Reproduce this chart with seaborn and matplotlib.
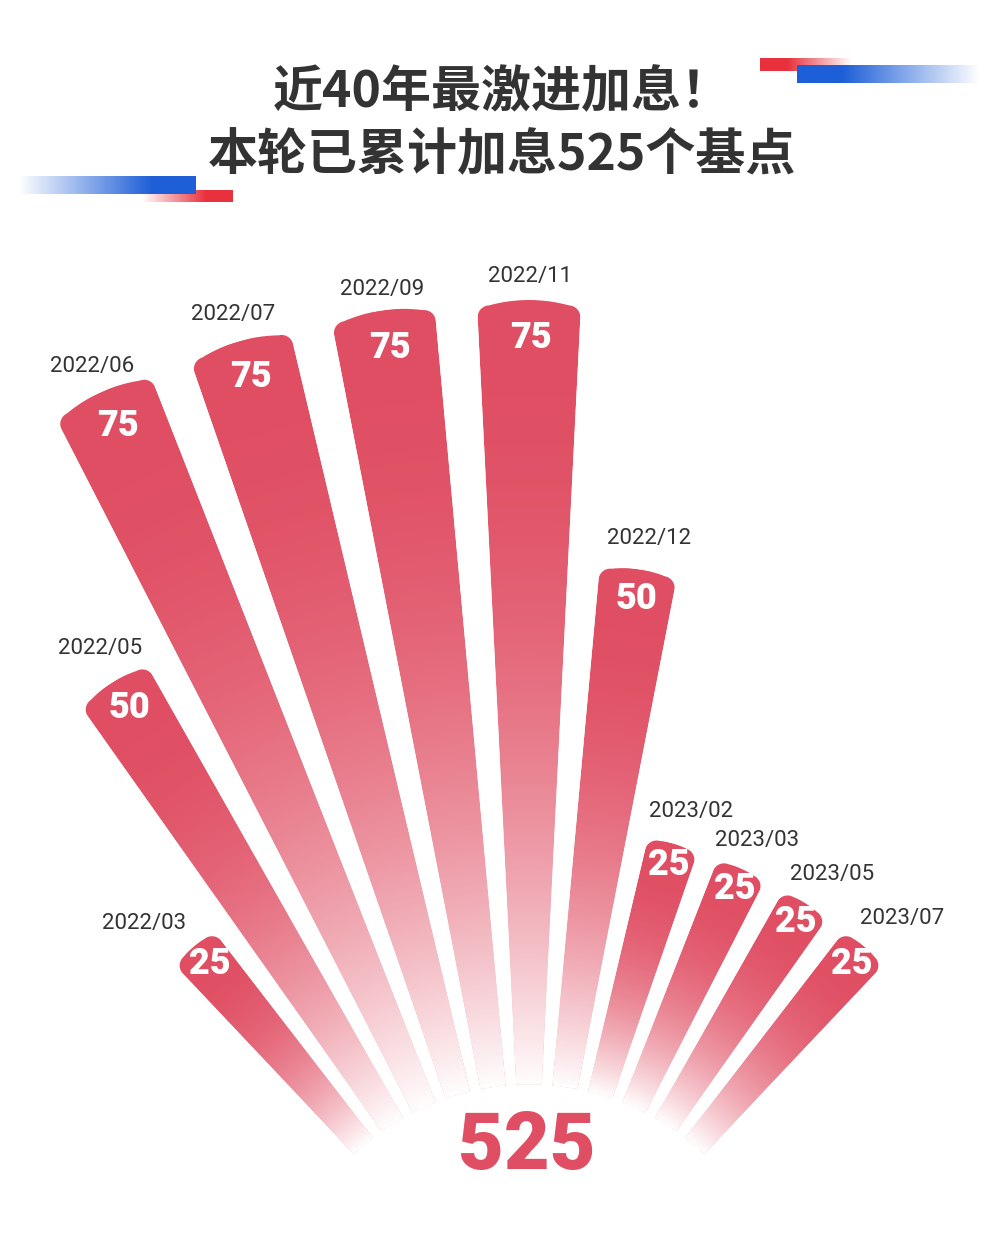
import numpy as np
import matplotlib
matplotlib.use('Agg')
import matplotlib.pyplot as plt
import seaborn as sns
from matplotlib.path import Path
from matplotlib.patches import PathPatch

# ---------------- data ----------------
months = ['2022/03', '2022/05', '2022/06', '2022/07', '2022/09', '2022/11',
          '2022/12', '2023/02', '2023/03', '2023/05', '2023/07']
hikes_bp = [25, 50, 75, 75, 75, 75, 50, 25, 25, 25, 25]
title_lines = ['近40年最激进加息！', '本轮已累计加息525个基点']

# ---------------- style / layout ----------------
W, H, DPI = 991, 1249, 100
RED = '#E04E63'
DARK = '#333333'
CX, CY = 529, 1340          # polar centre (px, from top)
R0_PX = 255.5               # radius of value 0 (px)
PX_PER_BP = 10.46
RMAX = 85
STEP_DEG = 8.1
BAR_FRAC = 0.71
CORNER_PX = 12
SAG_FRAC = 0.15
GAMMA = 2.3
# date-label nudges relative to bar tip (px, y up)
DATE_DX = [-49, -12, -9, -6, 0, 1, 10, 18, 15, 26, 37]
DATE_DY = [23, 34, 26, 27, 21, 24, 31, 32, 28, 29, 28]

sns.set_theme(style='white')
plt.rcParams['font.family'] = ['Noto Sans CJK SC', 'DejaVu Sans']
NUM_FONT = ['Roboto', 'DejaVu Sans']

fig = plt.figure(figsize=(W / DPI, H / DPI), dpi=DPI)
fig.patch.set_facecolor('white')

R_ax = R0_PX + PX_PER_BP * RMAX
rorigin = -R0_PX / PX_PER_BP
cy_b = H - CY
ax = fig.add_axes([(CX - R_ax) / W, (cy_b - R_ax) / H, 2 * R_ax / W, 2 * R_ax / H],
                  projection='polar', zorder=1)
ax.set_theta_zero_location('N')
ax.set_theta_direction(-1)

n = len(months)
theta = np.deg2rad((np.arange(n) - (n - 1) / 2) * STEP_DEG)
values = np.array(hikes_bp, dtype=float)

sns.barplot(x=theta, y=values, native_scale=True, width=BAR_FRAC, color=RED,
            saturation=1, errorbar=None, linewidth=0, edgecolor='none', ax=ax)
ax.set_ylim(0, RMAX)
ax.set_rorigin(rorigin)
ax.axis('off')
ax.patch.set_alpha(0)

centre = ax.transAxes.transform((0.5, 0.5))


def rho_of(r):
    p = ax.transData.transform(np.array([[0.0, r]]))[0]
    return float(np.hypot(*(p - centre)))


rho0 = rho_of(0.0)
drho = rho_of(1.0) - rho0


def dome_path(left, width, top):
    tc = left + width / 2
    hw = width / 2
    rtop = rho0 + drho * top
    hw_px = hw * rtop
    sag = SAG_FRAC * hw_px
    rc = CORNER_PX
    c = min(rc / hw_px, 0.9)
    rd = rtop - sag * (1 - c) ** 2
    phi = np.linspace(0, np.pi / 2, 25)
    u_rc = (1 - c) + c * np.sin(phi)
    r_rc = rd - rc * (1 - np.cos(phi))
    u_mid = np.linspace(-(1 - c), (1 - c), 60)
    r_mid = rtop - sag * u_mid ** 2
    u = np.concatenate([-u_rc[::-1], u_mid, u_rc])
    rr = np.concatenate([r_rc[::-1], r_mid, r_rc])
    th = tc + u * hw
    rdat = (rr - rho0) / drho
    verts = [(tc - hw, 0.0)] + list(zip(th, rdat)) + [(tc + hw, 0.0), (tc - hw, 0.0)]
    return Path(verts, closed=True)


bars = list(ax.patches)
domes = []
for b in bars:
    p = dome_path(b.get_x(), b.get_width(), b.get_height())
    domes.append(p)
    b.set_clip_path(PathPatch(p, transform=ax.transData))

# value labels inside bar tips
for t, v in zip(theta, values):
    d = 15 + 0.3 * v
    ax.annotate(f'{int(v)}', xy=(t, v), xytext=(-d * np.sin(t) + 2, -d * np.cos(t)),
                textcoords='offset pixels', ha='center', va='center',
                color='white', fontsize=26, fontweight='black', family=NUM_FONT,
                annotation_clip=False)

# date labels above bar tips
for i, (t, v, m) in enumerate(zip(theta, values, months)):
    ax.annotate(m, xy=(t, v), xytext=(DATE_DX[i], DATE_DY[i]),
                textcoords='offset pixels', ha='center', va='center',
                color=DARK, fontsize=16, family=NUM_FONT, annotation_clip=False)

# ---------------- overlay: fade-to-white gradient + decorations ----------------
bg = fig.add_axes([0, 0, 1, 1], zorder=2)
bg.set_xlim(0, W)
bg.set_ylim(0, H)
bg.axis('off')
bg.patch.set_alpha(0)

xs = np.arange(W) + 0.5
ys = H - (np.arange(H) + 0.5)
X, Y = np.meshgrid(xs, ys)
dx = X - centre[0]
dy = Y - centre[1]
rho = np.hypot(dx, dy)
ang = np.arctan2(dx, dy)
mids = (theta[:-1] + theta[1:]) / 2
idx = np.searchsorted(mids, ang)
top_rho = rho0 + drho * values[idx]
frac = np.clip((rho - rho0) / (top_rho - rho0), 0, 1)
white_a = (1 - frac) ** GAMMA
img = np.ones((H, W, 4), dtype=np.float32)
img[..., 3] = white_a
im = bg.imshow(img, extent=(0, W, 0, H), origin='upper', aspect='auto',
               interpolation='nearest', zorder=1)
im.set_clip_path(PathPatch(Path.make_compound_path(*domes), transform=ax.transData))


def grad_rect(x0, x1, y0, y1, color, solid_left, solid_frac):
    t = np.linspace(0, 1, 200)
    if not solid_left:
        t = t[::-1]
    a = np.clip(1 - (t - solid_frac) / (1 - solid_frac), 0, 1)
    rgba = np.zeros((1, 200, 4))
    rgba[..., :3] = matplotlib.colors.to_rgb(color)
    rgba[0, :, 3] = a
    bg.imshow(rgba, extent=(x0, x1, H - y1, H - y0), aspect='auto',
              interpolation='bilinear', zorder=3)


grad_rect(760, 852, 58, 71, '#E8313D', True, 0.3)
grad_rect(797, 980, 65, 83, '#1E5FD8', True, 0.25)
grad_rect(142, 233, 190, 202, '#E8313D', False, 0.3)
grad_rect(18, 196, 176, 194, '#1E5FD8', False, 0.25)
bg.set_xlim(0, W)
bg.set_ylim(0, H)

# ---------------- title & total ----------------
fig.text(502 / W, 1 - 93 / H, title_lines[0], ha='center', va='center',
         fontsize=36, fontweight='heavy', color=DARK, zorder=5)
fig.text(502 / W, 1 - 156 / H, title_lines[1], ha='center', va='center',
         fontsize=36, fontweight='heavy', color=DARK, zorder=5)
fig.text(527 / W, 1 - 1147 / H, f'{int(values.sum())}', ha='center', va='center',
         fontsize=57, fontweight='black', color=RED, family=NUM_FONT, zorder=5)

fig.savefig('out.png', dpi=DPI, facecolor='white')
